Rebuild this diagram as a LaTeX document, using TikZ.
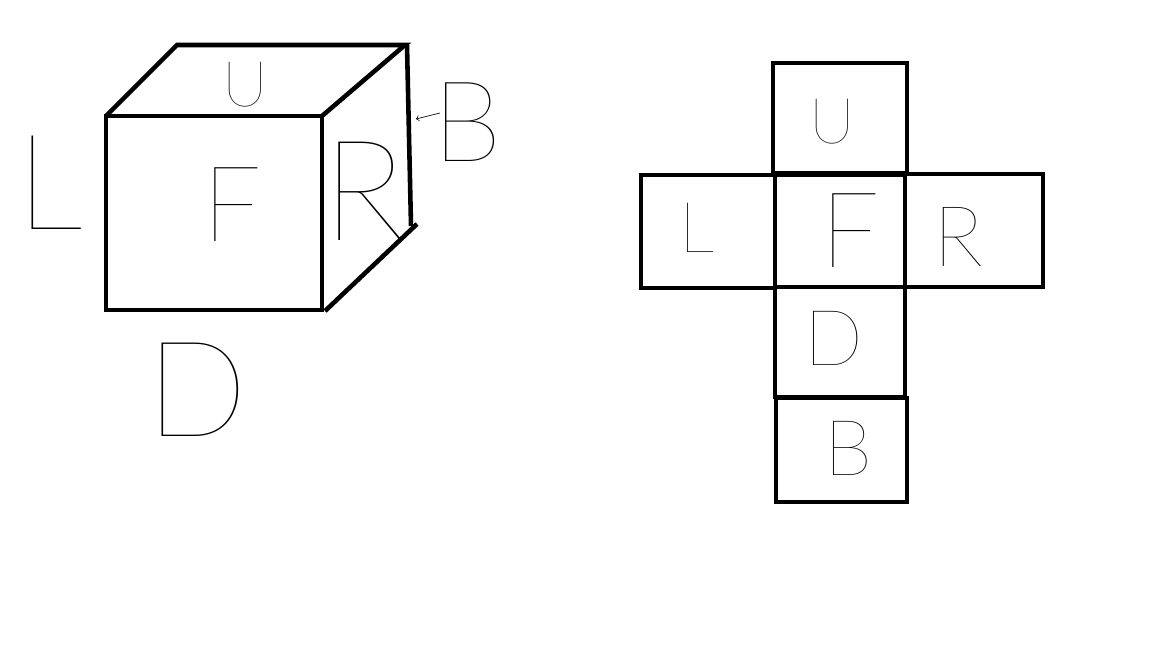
\documentclass[tikz,border=0pt]{standalone}
\usepackage{fontspec}
\IfFontExistsTF{Lato Hairline}{\newfontfamily\handfont{Lato Hairline}}{\newfontfamily\handfont{Lato}}
\tikzstyle{edge}=[line width=2.6pt, black, line join=miter]
\tikzstyle{letter}=[inner sep=0pt, black]
\newcommand{\hand}[1]{\handfont\fontsize{#1}{#1}\selectfont}

\begin{document}
\begin{tikzpicture}[>=to,x=.02cm,y=-.02cm]
    \useasboundingbox (0,0) rectangle (1152,648);

    % Cube
    \draw[edge] (106,116) rectangle (322,310);
    \draw[edge] (106,116) -- (177,45) -- (405,45) -- (322,116);
    \draw[edge] (407,45) -- (411,226);
    \draw[edge] (417,224) -- (325,311);

    % Cube letters
    \draw (245,85) node[letter] (cubeU) {\hand{36}U};
    \draw (232,205) node[letter] (cubeF) {\hand{60}F};
    \draw (50,183) node[letter] (cubeL) {\hand{76}L};
    \draw (364,191) node[letter] (cubeR) {\hand{80}R};
    \draw (467,122) node[letter] (cubeB) {\hand{64}B};
    \draw (197,390) node[letter] (cubeD) {\hand{76}D};
    \coordinate (arrowStart) at (440,113);
    \coordinate (arrowEnd) at (416,119);
    \draw[->,thin] (arrowStart) -- (arrowEnd);

    % Net
    \draw[edge] (773,63) rectangle (907,173);
    \draw[edge] (641,175) rectangle (775,288);
    \draw[edge] (775,175) rectangle (905,287);
    \draw[edge] (905,174) rectangle (1043,287);
    \draw[edge] (775,287) rectangle (905,397);
    \draw[edge] (776,398) rectangle (907,502);

    % Net letters
    \draw (832,122) node[letter] (netU) {\hand{36}U};
    \draw (697,228) node[letter] (netL) {\hand{40}L};
    \draw (850,231) node[letter] (netF) {\hand{60}F};
    \draw (958,237) node[letter] (netR) {\hand{48}R};
    \draw (834,338) node[letter] (netD) {\hand{44}D};
    \draw (848,448) node[letter] (netB) {\hand{44}B};
\end{tikzpicture}
\end{document}
